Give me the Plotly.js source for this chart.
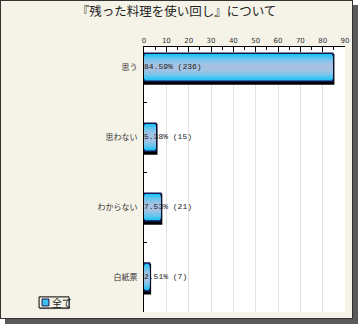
<!DOCTYPE html>
<html><head><meta charset="utf-8">
<script src="https://cdn.plot.ly/plotly-3.0.1.min.js"></script>
<style>
body{margin:0;background:#fff;}
#frame{position:absolute;left:0;top:0;width:351px;height:317px;border:1px solid #333;box-shadow:5px 5px 0 #5a5a5a;background:#f5f2e7;}
#chart{width:351px;height:317px;}
</style></head>
<body><div id="frame"><div id="chart"></div></div>
<script>
const categories = ["思う", "思わない", "わからない", "白紙票"];
const percents = [84.59, 5.38, 7.53, 2.51];
const counts = [236, 15, 21, 7];
const seriesName = "全て";
const xTicks = [0, 10, 20, 30, 40, 50, 60, 70, 80, 90];

const labels = percents.map((p, i) => p.toFixed(2) + "% (" + counts[i] + ")");

const traces = [];
// shadow
traces.push({type:"bar", orientation:"h", x:percents, y:categories, width:0.4, offset:-0.17,
  marker:{color:"#000", line:{color:"#000", width:3}}, showlegend:false, hoverinfo:"skip"});
// gradient layers
const layers = [
  {w:0.4, c:"#1cc2f8"},
  {w:0.34, c:"#3fc4f2"},
  {w:0.28, c:"#62c5ee"},
  {w:0.22, c:"#80c4ea"},
  {w:0.16, c:"#96c3e6"},
  {w:0.10, c:"#a6c2e3"}
];
layers.forEach((L, i) => {
  traces.push({type:"bar", orientation:"h", x:percents, y:categories, width:L.w,
    name: seriesName, showlegend:false,
    marker:{color:L.c, line:{color: i===0 ? "#151550" : L.c, width: i===0 ? 1.5 : 0}},
    hoverinfo:"skip"});
});
// value labels
traces.push({type:"scatter", mode:"text", x:percents.map(() => 0), y:categories, text:labels,
  textposition:"middle right", textfont:{family:"Liberation Mono, DejaVu Sans Mono, monospace", size:8, color:"#222"},
  showlegend:false, hoverinfo:"skip", cliponaxis:false});

const layout = {
  width:351, height:317,
  margin:{l:143, r:7, t:46, b:6},
  paper_bgcolor:"#f5f2e7", plot_bgcolor:"#ffffff",
  barmode:"overlay",
  showlegend:false,
  title:{text:"『残った料理を使い回し』について", font:{family:"Noto Sans CJK JP", size:12.5, color:"#222"},
    x:0.5, xanchor:"center", y:0.967, yref:"container", yanchor:"middle"},
  xaxis:{side:"top", range:[0, 90], tickvals:xTicks, ticktext:xTicks.map(String),
    ticks:"inside", ticklen:5, tickcolor:"#000", showline:true, linecolor:"#000", linewidth:1,
    showgrid:true, gridcolor:"#e2e2e2", gridwidth:1, zeroline:false,
    minor:{dtick:5, ticks:"inside", ticklen:3, tickcolor:"#000", showgrid:false},
    tickfont:{family:"DejaVu Sans", size:7, color:"#333"}, fixedrange:true},
  yaxis:{type:"category", range:[3.5, -0.29], tickson:"boundaries", ticks:"inside", ticklen:3, tickcolor:"#000",
    showline:true, linecolor:"#000", linewidth:1, showgrid:false, zeroline:false,
    tickfont:{family:"Noto Sans CJK JP", size:8, color:"#333"}, ticklabelstandoff:4, fixedrange:true},
  shapes:[
    {type:"rect", xref:"paper", yref:"paper", x0:-0.517, x1:-0.368, y0:0.011, y1:0.053, fillcolor:"#9a9a9a", line:{width:0}},
    {type:"rect", xref:"paper", yref:"paper", x0:-0.522, x1:-0.373, y0:0.015, y1:0.057, fillcolor:"#f5f2e7", line:{color:"#000", width:1}},
    {type:"rect", xref:"paper", yref:"paper", x0:-0.507, x1:-0.473, y0:0.023, y1:0.049, fillcolor:"#3cc0f0", line:{color:"#151550", width:1}}
  ],
  annotations:[
    {text:seriesName, xref:"paper", yref:"paper", x:-0.466, y:0.036, xanchor:"left", yanchor:"middle", showarrow:false,
      font:{family:"Noto Sans CJK JP", size:10, color:"#222"}}
  ]
};
Plotly.newPlot("chart", traces, layout, {staticPlot:true, displayModeBar:false});
</script></body></html>
